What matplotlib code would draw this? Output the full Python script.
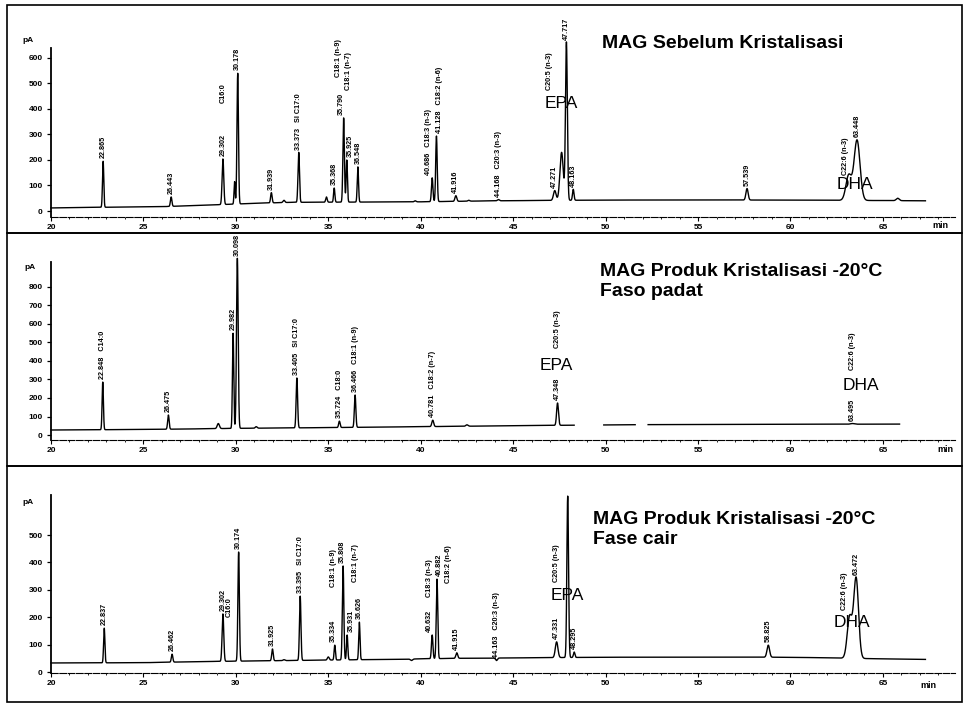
import numpy as np
import matplotlib
matplotlib.use("Agg")
import matplotlib.pyplot as plt
from matplotlib.patches import Rectangle
from matplotlib.ticker import MultipleLocator

plt.rcParams['font.family'] = ['Liberation Sans', 'DejaVu Sans']

# ---- panel A: MAG Sebelum Kristalisasi ----
rt_a = [22.82, 26.50, 29.30, 29.93, 30.10, 31.92, 32.60, 33.40, 34.90, 35.32, 35.83, 36.00,
        36.60, 39.70, 40.62, 40.85, 41.90, 42.60, 44.20, 47.25, 47.62, 47.88, 48.25, 57.65,
        63.15, 63.60, 65.80]
apex_a = [195, 55, 204, 115, 540, 72, 42, 230, 55, 90, 365, 200,
          173, 40, 130, 294, 60, 42, 45, 80, 230, 660, 85, 88,
          140, 278, 50]
sigma_a = [0.035, 0.04, 0.045, 0.03, 0.04, 0.04, 0.05, 0.04, 0.04, 0.035, 0.04, 0.035,
           0.035, 0.05, 0.04, 0.04, 0.05, 0.05, 0.05, 0.07, 0.09, 0.05, 0.04, 0.06,
           0.15, 0.16, 0.08]
rtlab_a = ["22.865", "26.443", "29.302", "", "30.178", "31.939", "", "33.373", "", "35.368",
           "35.790", "35.925", "36.548", "", "40.686", "41.128", "41.916", "", "44.168",
           "47.271", "", "47.717", "48.163", "57.539", "", "63.448", ""]
names_a = ["", "", "C16:0", "", "", "", "", "SI C17:0", "", "", "C18:1 (n-9)", "C18:1 (n-7)",
           "", "", "C18:3 (n-3)", "C18:2 (n-6)", "", "", "C20:3 (n-3)", "", "", "C20:5 (n-3)",
           "", "", "", "C22:6 (n-3)", ""]
base_t_a = [20, 22, 26, 28, 31, 33, 40, 44, 50, 60, 67.3]
base_v_a = [12, 14, 17, 22, 30, 34, 36, 40, 43, 43, 40]

# ---- panel B: Fase padat ----
rt_b = [22.80, 26.35, 29.05, 29.85, 30.08, 31.10, 33.30, 35.60, 36.45, 40.65, 42.50, 47.40, 63.35]
apex_b = [286, 108, 62, 550, 955, 45, 308, 75, 216, 80, 55, 173, 62]
sigma_b = [0.035, 0.04, 0.06, 0.035, 0.045, 0.05, 0.04, 0.04, 0.04, 0.05, 0.06, 0.05, 0.1]
rtlab_b = ["22.848", "26.475", "", "29.982", "30.098", "", "33.405", "35.724", "36.466",
           "40.781", "", "47.348", "63.495"]
names_b = ["C14:0", "", "", "", "", "", "SI C17:0", "C18:0", "C18:1 (n-9)", "C18:2 (n-7)",
           "", "C20:5 (n-3)", "C22:6 (n-3)"]
base_t_b = [20, 22, 27, 30, 35, 40, 47, 52, 66]
base_v_b = [27, 28, 32, 36, 40, 45, 52, 56, 59]
trace_b = [(20, 48.3), (49.9, 51.6), (52.3, 65.9)]

# ---- panel C: Fase cair ----
rt_c = [22.88, 26.55, 29.30, 30.15, 31.98, 32.60, 33.48, 35.00, 35.35, 35.80, 36.02, 36.68,
        39.50, 40.62, 40.88, 41.95, 44.10, 47.35, 47.95, 48.30, 58.80, 63.20, 63.55]
apex_c = [160, 65, 212, 438, 84, 45, 277, 55, 98, 387, 135, 182,
          42, 135, 339, 70, 42, 110, 642, 73, 98, 200, 343]
sigma_c = [0.035, 0.04, 0.045, 0.04, 0.04, 0.05, 0.04, 0.05, 0.035, 0.04, 0.035, 0.035,
           0.06, 0.04, 0.04, 0.05, 0.05, 0.07, 0.045, 0.04, 0.07, 0.13, 0.13]
rtlab_c = ["22.837", "26.462", "29.302", "30.174", "31.925", "", "33.395", "", "35.334",
           "35.808", "35.931", "36.626", "", "40.632", "40.882", "41.915", "44.163", "47.331",
           "", "48.295", "58.825", "", "63.472"]
names_c = ["", "", "C16:0", "", "", "", "SI C17:0", "", "", "C18:1 (n-9)", "C18:1 (n-7)", "",
           "", "C18:3 (n-3)", "C18:2 (n-6)", "", "C20:3 (n-3)", "", "C20:5 (n-3)", "", "", "",
           "C22:6 (n-3)"]
base_t_c = [20, 25, 28, 33, 38, 42, 46, 50, 60, 65, 67.3]
base_v_c = [33, 34, 38, 42, 46, 50, 52, 54, 54, 48, 46]

xticks = [20, 25, 30, 35, 40, 45, 50, 55, 60, 65]

# label layout: compound names set apart from their retention time
# (index -> (pA level of text bottom, x shift in min)), and sideways nudges of rt labels
name_pos_a = {2: (424, 0.0), 10: (525, -0.27), 11: (475, 0.1), 21: (475, -0.9), 25: (141, -0.65)}
name_pos_b = {11: (470, 0.0), 12: (351, 0.0)}
name_pos_c = {2: (200, 0.32), 9: (310, -0.5), 10: (328, 0.45), 13: (274, -0.15),
              14: (325, 0.6), 18: (328, -0.6), 22: (226, -0.65)}
lab_dx_a = {10: -0.1, 11: 0.18, 14: -0.22, 15: 0.15}
lab_dx_b = {}
lab_dx_c = {8: -0.08, 9: -0.05, 10: 0.2, 13: -0.15, 14: 0.12}

W, H = 965, 704
fig = plt.figure(figsize=(W / 100, H / 100), dpi=100)


def fx(px):
    return px / W


def fy(py):
    return 1 - py / H


def draw_panel(top, bottom, ylim, yticks, rt, apex, sigma, rtlab, names, name_pos, lab_dx,
               base_t, base_v, t_end, segments=None):
    ax = fig.add_axes([fx(51), fy(bottom), fx(955) - fx(51), (bottom - top) / H])
    t = np.linspace(20, t_end, 15000)
    y = np.interp(t, base_t, base_v)
    for r, a, s in zip(rt, apex, sigma):
        amp = a - np.interp(r, base_t, base_v)
        y = y + amp * np.exp(-0.5 * ((t - r) / s) ** 2)
    if segments:
        keep = np.zeros_like(t, dtype=bool)
        for a0, a1 in segments:
            keep |= (t >= a0) & (t <= a1)
        y = np.where(keep, y, np.nan)
    ax.plot(t, y, color='black', lw=1.0, clip_on=False)

    for i, r in enumerate(rt):
        lab = rtlab[i]
        nm = names[i]
        if nm and i not in name_pos:
            lab = (lab + "   " + nm).strip()
        if lab:
            ax.annotate(lab, (r + lab_dx.get(i, 0), apex[i]), xytext=(0, 2),
                        textcoords='offset points', rotation=90, ha='center', va='bottom',
                        fontsize=5.2, fontweight='bold', annotation_clip=False)
        if nm and i in name_pos:
            lvl, dx = name_pos[i]
            ax.text(r + dx, lvl, nm, rotation=90, ha='center', va='bottom',
                    fontsize=5.2, fontweight='bold', clip_on=False)

    ax.set_xlim(20, 68.9)
    ax.set_ylim(*ylim)
    ax.set_xticks(xticks)
    ax.xaxis.set_minor_locator(MultipleLocator(1))
    ax.set_yticks(yticks)
    for side in ['top', 'right']:
        ax.spines[side].set_visible(False)
    ax.spines['left'].set_linewidth(1.3)
    ax.spines['bottom'].set_linewidth(0.8)
    ax.spines['bottom'].set_linestyle((0, (6, 1.5)))
    ax.tick_params(axis='y', direction='out', length=3, width=0.9, pad=3, labelsize=6)
    ax.tick_params(axis='x', which='major', direction='out', length=3, width=0.8, pad=2,
                   labelsize=6)
    ax.tick_params(axis='x', which='minor', direction='out', length=1.5, width=0.6)
    for lbl in ax.get_xticklabels() + ax.get_yticklabels():
        lbl.set_fontweight('bold')
    ax.patch.set_alpha(0)
    return ax


ax1 = draw_panel(48, 217, (-23.5, 639), list(range(0, 700, 100)), rt_a, apex_a, sigma_a,
                 rtlab_a, names_a, name_pos_a, lab_dx_a, base_t_a, base_v_a, 67.3)
ax2 = draw_panel(262, 440, (-27, 935), list(range(0, 900, 100)), rt_b, apex_b, sigma_b,
                 rtlab_b, names_b, name_pos_b, lab_dx_b, base_t_b, base_v_b, 65.9, trace_b)
ax3 = draw_panel(495, 673, (-3.6, 646), list(range(0, 600, 100)), rt_c, apex_c, sigma_c,
                 rtlab_c, names_c, name_pos_c, lab_dx_c, base_t_c, base_v_c, 67.3)

# EPA / DHA markers
ax1.text(47.6, 423, "EPA", ha='center', va='center', fontsize=12.5)
ax1.text(63.5, 102, "DHA", ha='center', va='center', fontsize=12.5)
ax2.text(47.35, 378, "EPA", ha='center', va='center', fontsize=12.5)
ax2.text(63.8, 270, "DHA", ha='center', va='center', fontsize=12.5)
ax3.text(47.95, 281, "EPA", ha='center', va='center', fontsize=12.5)
ax3.text(63.3, 182, "DHA", ha='center', va='center', fontsize=12.5)

# panel titles
fig.text(fx(602), fy(43), "MAG Sebelum Kristalisasi", fontsize=14, fontweight='bold', va='center')
fig.text(fx(600), fy(272), "MAG Produk Kristalisasi -20\u00b0C", fontsize=14, fontweight='bold', va='center')
fig.text(fx(600), fy(292), "Faso padat", fontsize=14, fontweight='bold', va='center')
fig.text(fx(593), fy(520), "MAG Produk Kristalisasi -20\u00b0C", fontsize=14, fontweight='bold', va='center')
fig.text(fx(593), fy(540), "Fase cair", fontsize=14, fontweight='bold', va='center')

# axis unit labels
for px, py in [(28, 40), (30, 268), (28, 503)]:
    fig.text(fx(px), fy(py), "pA", fontsize=6, fontweight='bold', ha='center', va='center')
for px, py in [(940, 226), (945, 450), (928, 686)]:
    fig.text(fx(px), fy(py), "min", fontsize=6.5, fontweight='bold', ha='center', va='center')

# panel frames
for top, bot in [(5, 233), (233, 466), (466, 702)]:
    fig.add_artist(Rectangle((fx(7), fy(bot)), fx(962) - fx(7), (bot - top) / H,
                             fill=False, edgecolor='black', lw=1.2, transform=fig.transFigure))

fig.savefig("out.png", dpi=100)
